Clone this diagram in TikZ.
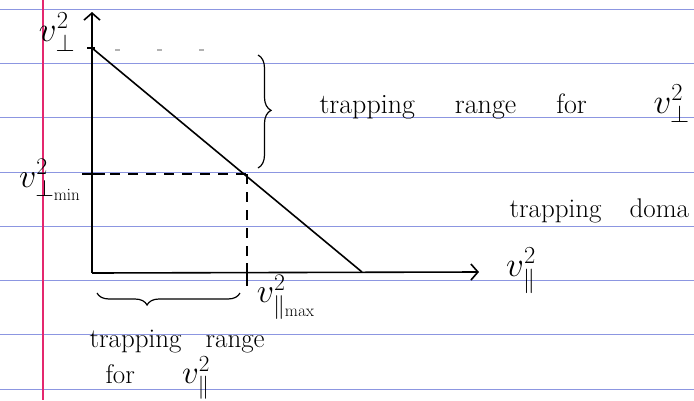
\RequirePackage{fix-cm}
\documentclass[tikz,border=0pt]{standalone}
\usepackage{amsmath}
\usepackage{amssymb}
\usepackage{tikz}
\usetikzlibrary{
  arrows.meta,              % 坐标轴箭头
  calc,                     % 坐标计算
  decorations.pathreplacing,% 大括号装饰
  positioning               % 节点相对定位
}
\definecolor{marginred}{RGB}{228,40,110}
\definecolor{ruleblue}{RGB}{140,150,225}

\begin{document}
\begin{tikzpicture}[>={Straight Barb[length=7pt,width=16pt,line width=1.6pt]}, x=1pt, y=-1pt]
  % 画布大小（与原图一致，y 轴向下）
  \useasboundingbox (0,0) rectangle (694,400);

  % 1. 纸张：蓝色横线与红色页边线
  \foreach \yy in {9,63,117,172,226,280,334,389}
    \draw[ruleblue, line width=0.9pt] (0,\yy) -- (694,\yy);
  \draw[marginred, line width=2.2pt] (43,0) -- (43,400);

  % 定位原点与各关键点
  \coordinate (O) at (92,273);
  \coordinate (Ytop) at (92,12);
  \coordinate (Xend) at (479,272);
  \coordinate (A) at (92,48);    % 斜线与纵轴交点
  \coordinate (B) at (362,272);  % 斜线与横轴交点
  \coordinate (P) at (247,174);  % 虚线交点

  % 2. 坐标轴
  \draw[line width=1.6pt, ->] (O) -- (Ytop);
  \draw[line width=1.6pt, ->] (O) -- (Xend);

  % 3. 斜线
  \draw[line width=1.6pt] (A) -- (B);

  % 4. 虚线与刻度
  \coordinate (Pv) at (O |- P);
  \coordinate (Ph) at (P |- O);
  \draw[line width=1.6pt, dash pattern=on 10pt off 8pt] (Pv) -- (P);
  \draw[line width=1.6pt, dash pattern=on 10pt off 8pt] (P) -- (Ph);
  \draw[line width=1.6pt] ($(Pv)+(-10,0)$) -- ($(Pv)+(13,0)$);
  \draw[line width=1.6pt] ($(Ph)+(0,-10)$) -- ($(Ph)+(0,13)$);
  \draw[line width=1.2pt] ($(A)+(-5,0)$) -- ($(A)+(3,0)$);
  \draw[gray!60, line width=1.4pt, dash pattern=on 5pt off 37pt] (115,50) -- (240,50);

  % 5. 大括号
  \draw[line width=1.2pt, decorate, decoration={brace, amplitude=13pt, aspect=0.49}]
    (258,55) -- (258,168);
  \draw[line width=1.2pt, decorate, decoration={brace, amplitude=12pt, aspect=0.65}]
    (240,293) -- (97,293);

  % 6. 文字标注
  \node[font=\fontsize{35}{40}\selectfont] (vperp) at (57,32) {$v_\perp^2$};
  \node[font=\fontsize{34}{40}\selectfont] (vperpmin) at (50,180) {$v^2_{\perp_{\mathrm{min}}}$};
  \node[font=\fontsize{35}{40}\selectfont] (vpar) at (521,271) {$v_\parallel^2$};
  \node[font=\fontsize{34}{40}\selectfont] (vparmax) at (286,297) {$v^2_{\parallel_{\mathrm{max}}}$};
  \node[font=\fontsize{28}{32}\selectfont, anchor=base west] (rangeperp) at (316,113)
    {trapping\hspace{40pt}range\hspace{40pt}for};
  \node[font=\fontsize{35}{40}\selectfont, anchor=base west] (vperpr) at (650,113) {$v_\perp^2$};
  \node[font=\fontsize{27}{30}\selectfont, anchor=base west] (domain) at (506,217) {trapping\hspace{28pt}doma};
  \node[font=\fontsize{27}{30}\selectfont, anchor=base west] (rangepar) at (86,347) {trapping\hspace{24pt}range};
  \node[font=\fontsize{27}{30}\selectfont, anchor=base west] (forpar) at (102,383) {for};
  \node[font=\fontsize{33}{36}\selectfont, right=40pt of forpar.base east, anchor=base west] (vparfor) {$v_\parallel^2$};
\end{tikzpicture}
\end{document}
